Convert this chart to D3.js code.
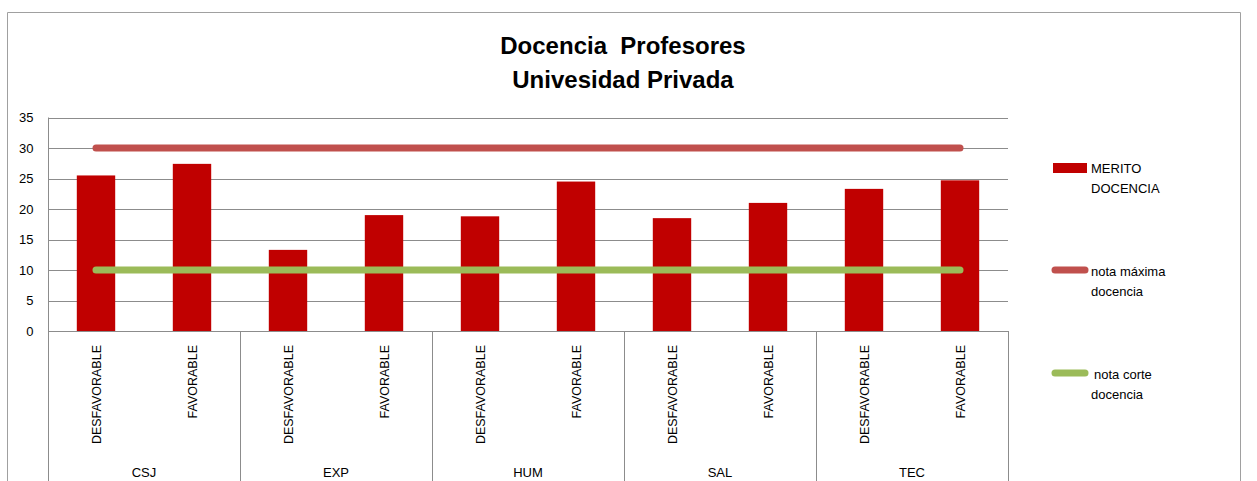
<!DOCTYPE html>
<html>
<head>
<meta charset="utf-8">
<script src="https://cdn.jsdelivr.net/npm/d3@7"></script>
<style>
  body { margin: 0; background: #fff; }
  text { font-family: "Liberation Sans", Arial, sans-serif; fill: #000; }
</style>
</head>
<body>
<div id="chart"></div>
<script>
var w = 1257;
var h = 481;

// data
var groups = ["CSJ", "EXP", "HUM", "SAL", "TEC"];
var outcomes = ["DESFAVORABLE", "FAVORABLE"];
var merito = [25.5, 27.4, 13.3, 19.0, 18.8, 24.5, 18.5, 21.0, 23.3, 24.7];
var notaMaxima = [30, 30, 30, 30, 30, 30, 30, 30, 30, 30];
var notaCorte = [10, 10, 10, 10, 10, 10, 10, 10, 10, 10];
var yTicks = [0, 5, 10, 15, 20, 25, 30, 35];

var barColor = "#c00000";
var maxColor = "#c0504d";
var corteColor = "#9bbb59";
var gridColor = "#8c8c8c";

var rows = [];
groups.forEach(function(g, gi) {
  outcomes.forEach(function(o, oi) {
    var i = gi * outcomes.length + oi;
    rows.push({ key: g + "|" + o, group: g, outcome: o, merito: merito[i], max: notaMaxima[i], corte: notaCorte[i] });
  });
});

var plotLeft = 48, plotRight = 1008, plotTop = 117.5, plotBottom = 331;

var x = d3.scaleBand()
  .domain(rows.map(function(d) { return d.key; }))
  .range([plotLeft, plotRight])
  .paddingInner(0.6)
  .paddingOuter(0.3);

var gx = d3.scaleBand()
  .domain(groups)
  .range([plotLeft, plotRight]);

var y = d3.scaleLinear().domain([0, 35]).range([plotBottom, plotTop]);

var svg = d3.select("#chart").append("svg")
  .attr("width", w)
  .attr("height", h);

// outer chart border
svg.append("path")
  .attr("d", "M7.5," + h + "V12.5H1240.5V" + h)
  .attr("fill", "none")
  .attr("stroke", "#a0a0a0")
  .attr("stroke-width", 1);

// title
var title = svg.append("text")
  .attr("text-anchor", "middle")
  .style("font-weight", "bold")
  .style("font-size", "24px");
title.append("tspan").attr("x", 623).attr("y", 54).attr("xml:space", "preserve").text("Docencia  Profesores");
title.append("tspan").attr("x", 623).attr("y", 88).text("Univesidad Privada");

// gridlines
svg.append("g").selectAll("line")
  .data(yTicks.filter(function(t) { return t > 0; }))
  .enter().append("line")
  .attr("x1", plotLeft).attr("x2", plotRight)
  .attr("y1", function(d) { return Math.round(y(d)) + 0.5; })
  .attr("y2", function(d) { return Math.round(y(d)) + 0.5; })
  .attr("stroke", gridColor)
  .attr("stroke-width", 1);

// y axis
var yAxis = svg.append("g")
  .attr("transform", "translate(" + (plotLeft + 0.5) + ",0)")
  .call(d3.axisLeft(y).tickValues(yTicks).tickSize(0).tickPadding(15));
yAxis.select(".domain").attr("stroke", gridColor).attr("d", "M0," + plotTop + "V" + h);
yAxis.selectAll("text").style("font-size", "13px").style("font-family", "Liberation Sans, Arial, sans-serif");

// bars
svg.append("g").selectAll("rect")
  .data(rows)
  .enter().append("rect")
  .attr("x", function(d) { return x(d.key); })
  .attr("width", x.bandwidth())
  .attr("y", function(d) { return y(d.merito); })
  .attr("height", function(d) { return y(0) - y(d.merito); })
  .attr("fill", barColor);

// lines
var line = function(field) {
  return d3.line()
    .x(function(d) { return x(d.key) + x.bandwidth() / 2; })
    .y(function(d) { return y(d[field]); });
};
svg.append("path").datum(rows)
  .attr("d", line("max"))
  .attr("fill", "none").attr("stroke", maxColor)
  .attr("stroke-width", 7).attr("stroke-linecap", "round");
svg.append("path").datum(rows)
  .attr("d", line("corte"))
  .attr("fill", "none").attr("stroke", corteColor)
  .attr("stroke-width", 7).attr("stroke-linecap", "round");

// x axis (two levels)
svg.append("line")
  .attr("x1", plotLeft).attr("x2", plotRight)
  .attr("y1", Math.round(y(0)) + 0.5).attr("y2", Math.round(y(0)) + 0.5)
  .attr("stroke", gridColor);

svg.append("g").selectAll("line")
  .data(groups)
  .enter().append("line")
  .attr("x1", function(d) { return Math.round(gx(d) + gx.bandwidth()) + 0.5; })
  .attr("x2", function(d) { return Math.round(gx(d) + gx.bandwidth()) + 0.5; })
  .attr("y1", y(0)).attr("y2", h)
  .attr("stroke", gridColor);

svg.append("g").selectAll("text")
  .data(rows)
  .enter().append("text")
  .attr("transform", function(d) {
    return "translate(" + (x(d.key) + x.bandwidth() / 2 + 5) + ",345) rotate(-90)";
  })
  .attr("text-anchor", "end")
  .style("font-size", "12.5px")
  .text(function(d) { return d.outcome; });

svg.append("g").selectAll("text")
  .data(groups)
  .enter().append("text")
  .attr("x", function(d) { return gx(d) + gx.bandwidth() / 2; })
  .attr("y", 477)
  .attr("text-anchor", "middle")
  .style("font-size", "13px")
  .text(function(d) { return d; });

// legend
var legend = svg.append("g").style("font-size", "13px");
legend.append("rect")
  .attr("x", 1053).attr("y", 163).attr("width", 34).attr("height", 10)
  .attr("fill", barColor);
var t1 = legend.append("text").attr("y", 173);
t1.append("tspan").attr("x", 1091).text("MERITO");
t1.append("tspan").attr("x", 1091).attr("dy", 20).text("DOCENCIA");

legend.append("line")
  .attr("x1", 1055).attr("x2", 1085).attr("y1", 270).attr("y2", 270)
  .attr("stroke", maxColor).attr("stroke-width", 7).attr("stroke-linecap", "round");
var t2 = legend.append("text").attr("y", 276);
t2.append("tspan").attr("x", 1091).text("nota máxima");
t2.append("tspan").attr("x", 1091).attr("dy", 20).text("docencia");

legend.append("line")
  .attr("x1", 1055).attr("x2", 1085).attr("y1", 373).attr("y2", 373)
  .attr("stroke", corteColor).attr("stroke-width", 7).attr("stroke-linecap", "round");
var t3 = legend.append("text").attr("y", 379);
t3.append("tspan").attr("x", 1094).text("nota corte");
t3.append("tspan").attr("x", 1091).attr("dy", 20).text("docencia");
</script>
</body>
</html>
